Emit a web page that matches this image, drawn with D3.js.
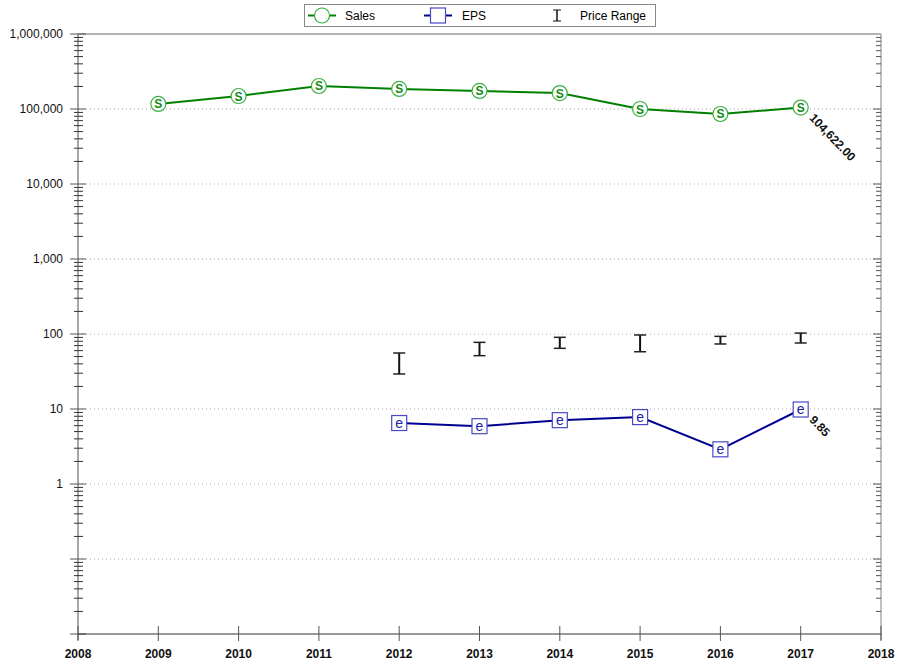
<!DOCTYPE html>
<html>
<head>
<meta charset="utf-8">
<script src="https://cdn.jsdelivr.net/npm/d3@7"></script>
<style>
  body { margin: 0; background: #fff; }
  svg { font-family: "Liberation Sans", Arial, sans-serif; }
</style>
</head>
<body>
<svg id="chart"></svg>
<script>
// values
var years = [2009, 2010, 2011, 2012, 2013, 2014, 2015, 2016, 2017];
var sales = [116700, 149000, 202700, 185000, 174000, 163000, 100000, 85800, 104622];
var epsYears = [2012, 2013, 2014, 2015, 2016, 2017];
var eps = [6.5, 5.9, 7.1, 7.8, 2.9, 9.85];
var priceHigh = [55.8, 77.4, 90.3, 97, 93, 103];
var priceLow = [29.3, 51.4, 64.4, 58, 73.6, 75.9];
var xTicks = [2008, 2009, 2010, 2011, 2012, 2013, 2014, 2015, 2016, 2017, 2018];
var yTicks = [1e6, 1e5, 1e4, 1e3, 100, 10, 1];
var yGrid = [1e5, 1e4, 1e3, 100, 10, 1, 0.1];

var width = 903, height = 662;
var pLeft = 78, pRight = 881, pTop = 34, pBottom = 634;

var svg = d3.select("#chart").attr("width", width).attr("height", height);

var x = d3.scaleLinear().domain([2008, 2018]).range([pLeft, pRight]);
var y = d3.scaleLog().domain([0.01, 1e6]).range([pBottom, pTop]);

// dotted grid
svg.selectAll(".grid").data(yGrid).enter()
  .append("line")
  .attr("x1", pLeft).attr("x2", pRight)
  .attr("y1", function(d){ return y(d); }).attr("y2", function(d){ return y(d); })
  .attr("stroke", "#aaa").attr("stroke-dasharray", "1,3");

// top border
svg.append("line").attr("x1", pLeft).attr("x2", pRight).attr("y1", pTop).attr("y2", pTop)
  .attr("stroke", "#999").attr("stroke-width", 1.5);

// minor ticks (2..9 of each decade)
var minor = [];
for (var e = -2; e < 6; e++) {
  for (var m = 2; m <= 9; m++) minor.push(m * Math.pow(10, e));
}

// left axis
svg.append("line").attr("x1", pLeft).attr("x2", pLeft).attr("y1", pTop).attr("y2", pBottom + 6)
  .attr("stroke", "#888").attr("stroke-width", 1.5);
svg.selectAll(".lminor").data(minor).enter().append("line")
  .attr("x1", pLeft - 4).attr("x2", pLeft + 5)
  .attr("y1", function(d){ return y(d); }).attr("y2", function(d){ return y(d); })
  .attr("stroke", "#333");
svg.selectAll(".lmajor").data([1e6, 1e5, 1e4, 1e3, 100, 10, 1, 0.1, 0.01]).enter().append("line")
  .attr("x1", pLeft - 8).attr("x2", pLeft + 8)
  .attr("y1", function(d){ return y(d); }).attr("y2", function(d){ return y(d); })
  .attr("stroke", "#555");
svg.selectAll(".ylab").data(yTicks).enter().append("text")
  .attr("x", 63).attr("y", function(d){ return y(d) + 4; })
  .attr("text-anchor", "end").attr("font-size", 12).attr("fill", "#111")
  .text(function(d){ return d3.format(",")(d); });

// right axis
svg.append("line").attr("x1", pRight).attr("x2", pRight).attr("y1", pTop).attr("y2", pBottom + 6)
  .attr("stroke", "#aaa").attr("stroke-width", 1.5);
svg.selectAll(".rminor").data(minor).enter().append("line")
  .attr("x1", pRight - 5).attr("x2", pRight)
  .attr("y1", function(d){ return y(d); }).attr("y2", function(d){ return y(d); })
  .attr("stroke", "#555");
svg.selectAll(".rmajor").data([1e5, 1e4, 1e3, 100, 10, 1, 0.1]).enter().append("line")
  .attr("x1", pRight - 8).attr("x2", pRight)
  .attr("y1", function(d){ return y(d); }).attr("y2", function(d){ return y(d); })
  .attr("stroke", "#555");

// bottom axis
svg.append("line").attr("x1", pLeft).attr("x2", pRight).attr("y1", pBottom).attr("y2", pBottom)
  .attr("stroke", "#333").attr("stroke-width", 1.2);
svg.selectAll(".xtick").data(xTicks).enter().append("line")
  .attr("x1", function(d){ return x(d); }).attr("x2", function(d){ return x(d); })
  .attr("y1", pBottom - 8).attr("y2", pBottom + 7)
  .attr("stroke", "#555");
svg.selectAll(".xlab").data(xTicks).enter().append("text")
  .attr("x", function(d){ return x(d); }).attr("y", 658)
  .attr("text-anchor", "middle").attr("font-size", 12).attr("font-weight", "bold")
  .attr("font-family", "'Liberation Sans Narrow', 'Liberation Sans', Arial, sans-serif")
  .attr("fill", "#111")
  .text(function(d){ return d; });

// price range bars
var pr = years.slice(3).map(function(yr, i){ return {yr: yr, hi: priceHigh[i], lo: priceLow[i]}; });
var bars = svg.selectAll(".pr").data(pr).enter().append("g");
bars.append("line")
  .attr("x1", function(d){ return x(d.yr); }).attr("x2", function(d){ return x(d.yr); })
  .attr("y1", function(d){ return y(d.hi); }).attr("y2", function(d){ return y(d.lo); })
  .attr("stroke", "#111").attr("stroke-width", 2);
bars.append("line")
  .attr("x1", function(d){ return x(d.yr) - 6; }).attr("x2", function(d){ return x(d.yr) + 6; })
  .attr("y1", function(d){ return y(d.hi); }).attr("y2", function(d){ return y(d.hi); })
  .attr("stroke", "#222").attr("stroke-width", 1.5);
bars.append("line")
  .attr("x1", function(d){ return x(d.yr) - 6; }).attr("x2", function(d){ return x(d.yr) + 6; })
  .attr("y1", function(d){ return y(d.lo); }).attr("y2", function(d){ return y(d.lo); })
  .attr("stroke", "#222").attr("stroke-width", 1.5);

// sales line
var salesData = years.map(function(yr, i){ return {yr: yr, v: sales[i]}; });
var line = d3.line().x(function(d){ return x(d.yr); }).y(function(d){ return y(d.v); });
svg.append("path").datum(salesData).attr("d", line)
  .attr("fill", "none").attr("stroke", "#008000").attr("stroke-width", 2);
var sm = svg.selectAll(".sm").data(salesData).enter().append("g")
  .attr("transform", function(d){ return "translate(" + x(d.yr) + "," + y(d.v) + ")"; });
sm.append("circle").attr("r", 7.5).attr("fill", "#fff").attr("stroke", "#3cb043").attr("stroke-width", 1.2);
sm.append("text").attr("y", 4.5).attr("text-anchor", "middle")
  .attr("font-size", 12).attr("font-weight", "bold").attr("fill", "#128a12").text("S");

// eps line
var epsData = epsYears.map(function(yr, i){ return {yr: yr, v: eps[i]}; });
svg.append("path").datum(epsData).attr("d", line)
  .attr("fill", "none").attr("stroke", "#000090").attr("stroke-width", 2);
var em = svg.selectAll(".em").data(epsData).enter().append("g")
  .attr("transform", function(d){ return "translate(" + x(d.yr) + "," + y(d.v) + ")"; });
em.append("rect").attr("x", -7.5).attr("y", -7.5).attr("width", 15).attr("height", 15)
  .attr("fill", "#fff").attr("stroke", "#4848c8").attr("stroke-width", 1.2);
em.append("text").attr("y", 4.5).attr("text-anchor", "middle")
  .attr("font-size", 14).attr("fill", "#2020b0").text("e");

// end labels
var lastS = salesData[salesData.length - 1], lastE = epsData[epsData.length - 1];
svg.append("text")
  .attr("transform", "translate(" + (x(lastS.yr) + 8) + "," + (y(lastS.v) + 11) + ") rotate(46)")
  .attr("font-size", 12).attr("font-weight", "bold").attr("fill", "#111")
  .text(d3.format(",.2f")(lastS.v));
svg.append("text")
  .attr("transform", "translate(" + (x(lastE.yr) + 8) + "," + (y(lastE.v) + 11) + ") rotate(46)")
  .attr("font-size", 12).attr("font-weight", "bold").attr("fill", "#111")
  .text(d3.format(".2f")(lastE.v));

// legend
var lg = svg.append("g");
lg.append("rect").attr("x", 304.5).attr("y", 4.5).attr("width", 351).attr("height", 22)
  .attr("fill", "#fff").attr("stroke", "#888");
lg.append("line").attr("x1", 308).attr("x2", 336).attr("y1", 15.5).attr("y2", 15.5)
  .attr("stroke", "#008000").attr("stroke-width", 2);
lg.append("circle").attr("cx", 322).attr("cy", 15.5).attr("r", 7.5)
  .attr("fill", "#fff").attr("stroke", "#3cb043").attr("stroke-width", 1.2);
lg.append("text").attr("x", 345).attr("y", 19.5).attr("font-size", 12).text("Sales");
lg.append("line").attr("x1", 424).attr("x2", 452).attr("y1", 15.5).attr("y2", 15.5)
  .attr("stroke", "#000090").attr("stroke-width", 2);
lg.append("rect").attr("x", 430.5).attr("y", 8).attr("width", 15).attr("height", 15)
  .attr("fill", "#fff").attr("stroke", "#4848c8").attr("stroke-width", 1.2);
lg.append("text").attr("x", 462).attr("y", 19.5).attr("font-size", 12).text("EPS");
lg.append("line").attr("x1", 557).attr("x2", 557).attr("y1", 10).attr("y2", 21)
  .attr("stroke", "#111").attr("stroke-width", 1.5);
lg.append("line").attr("x1", 553).attr("x2", 561).attr("y1", 10).attr("y2", 10).attr("stroke", "#111");
lg.append("line").attr("x1", 553).attr("x2", 561).attr("y1", 21).attr("y2", 21).attr("stroke", "#111");
lg.append("text").attr("x", 580).attr("y", 19.5).attr("font-size", 12).text("Price Range");
</script>
</body>
</html>
